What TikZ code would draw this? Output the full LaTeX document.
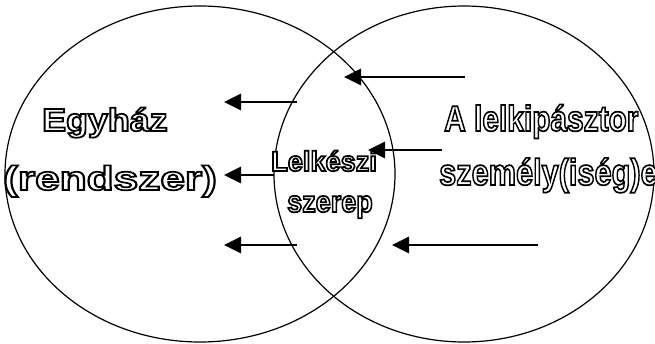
\documentclass[tikz,border=0pt]{standalone}
\usepackage{fontspec}
\setmainfont{Liberation Sans}
\usetikzlibrary{arrows.meta,shapes.geometric}
\newcommand{\outl}[1]{\special{pdf:literal 1 1 1 rg 0 0 0 RG 2 Tr 1.7 w}#1\special{pdf:literal 0 Tr 0 g 0 G}}
\newcommand{\wtext}[4]{\scalebox{#2}[#3]{\fontsize{#1}{#1}\selectfont\bfseries\outl{#4}}}
\tikzset{
  circ/.style={draw, ellipse, line width=1.2pt, inner sep=0pt},
  arr/.style={line width=2.8pt, -{Triangle[length=17pt,width=16pt]}},
  lbl/.style={anchor=base west, inner sep=0pt},
}
\begin{document}
\begin{tikzpicture}[x=1pt,y=-1pt]
\useasboundingbox (0,0) rectangle (655,343);
\node[circ, minimum width=390pt, minimum height=336pt] (church) at (200,174) {};
\node[circ, minimum width=380pt, minimum height=336pt] (pastor) at (464,174) {};
\node[lbl] (egyhaz) at (42,131) {\wtext{32pt}{1.12}{1}{Egyház}};
\node[lbl] (rendszer) at (3,190) {\wtext{34pt}{1.3}{1}{(rendszer)}};
\node[lbl] (lelkeszi) at (271,171) {\wtext{28pt}{0.97}{1}{Lelkészi}};
\node[lbl] (szerep) at (287,212) {\wtext{30pt}{0.9}{1}{szerep}};
\node[lbl] (lelkipasztor) at (444,131) {\wtext{36pt}{0.83}{1}{A lelkipásztor}};
\node[lbl] (szemelyiseg) at (439,185) {\wtext{37pt}{0.83}{1}{személy(iség)e}};
\coordinate (r1s) at (465,77);  \coordinate (r1e) at (344,77);
\coordinate (r2s) at (442,150); \coordinate (r2e) at (368,150);
\coordinate (r3s) at (538,245); \coordinate (r3e) at (392,245);
\coordinate (l1s) at (297,102); \coordinate (l1e) at (224,102);
\coordinate (l2s) at (274,175); \coordinate (l2e) at (224,175);
\coordinate (l3s) at (297,245); \coordinate (l3e) at (224,245);
\draw[arr] (r1s) -- (r1e);
\draw[arr] (r2s) -- (r2e);
\draw[arr] (r3s) -- (r3e);
\draw[arr] (l1s) -- (l1e);
\draw[arr] (l2s) -- (l2e);
\draw[arr] (l3s) -- (l3e);
\end{tikzpicture}
\end{document}
